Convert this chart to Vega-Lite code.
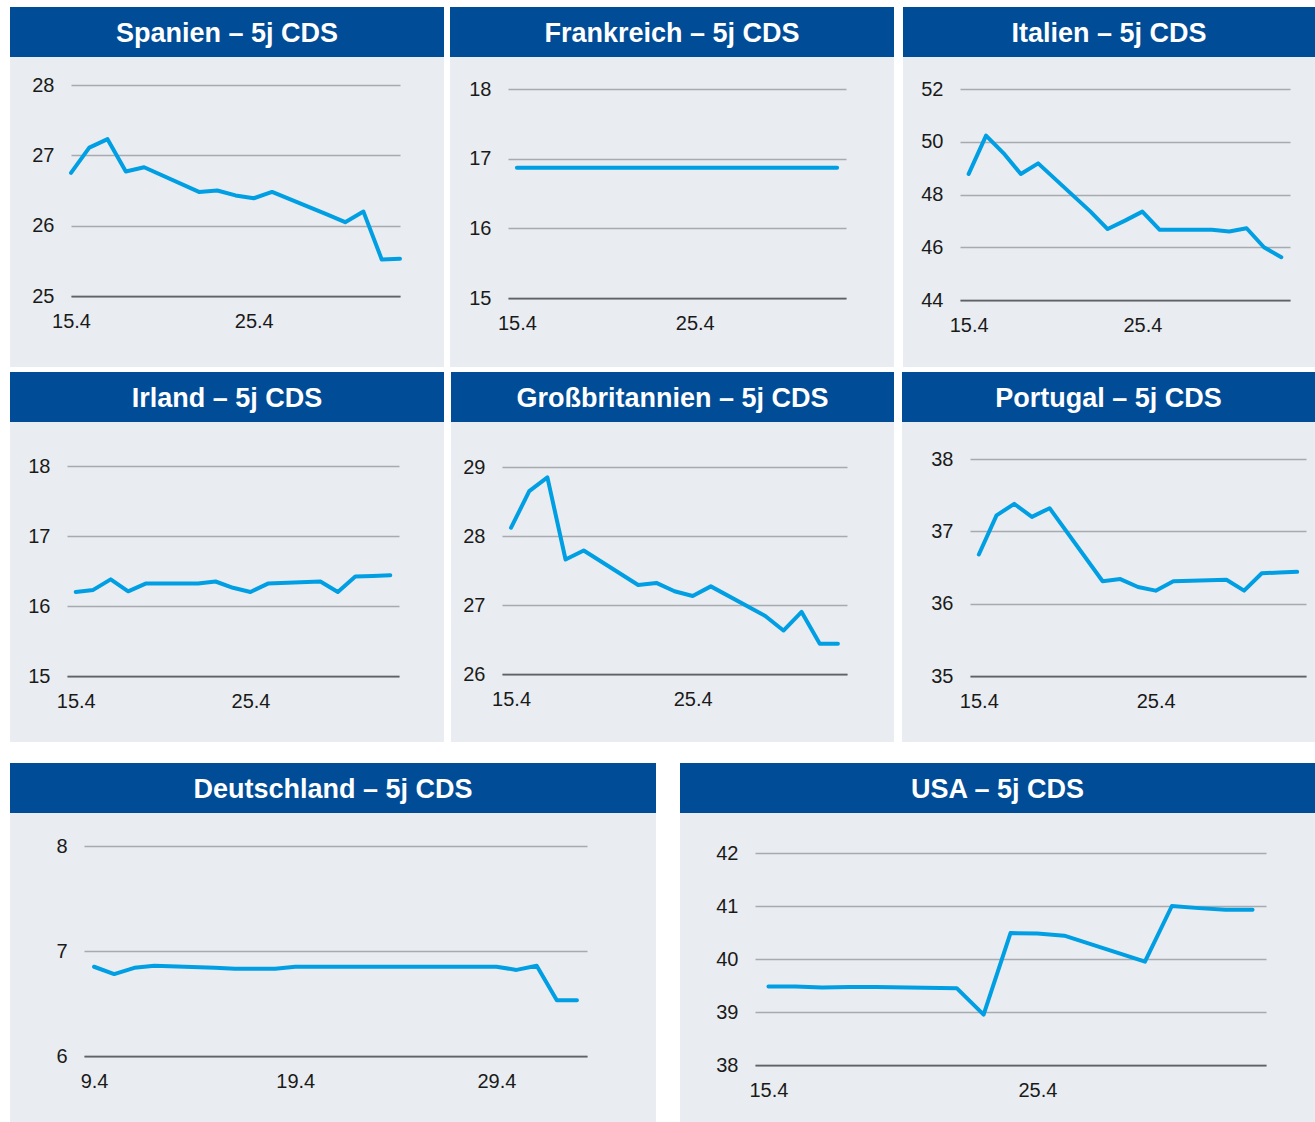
{
  "$schema": "https://vega.github.io/schema/vega-lite/v6.json",
  "background": "white",
  "padding": {"left": 10, "top": 7, "right": 0, "bottom": 0},
  "config": {
    "font": "Liberation Sans",
    "view": {"stroke": null},
    "axis": {"labelFont": "Liberation Sans", "labelFontSize": 20, "labelColor": "#1a1a1a", "title": null, "ticks": false, "tickSize": 0, "gridColor": "#a7aaae", "gridWidth": 1.5, "domainColor": "#5f6368", "domainWidth": 1.75, "labelFlush": false, "labelOverlap": false},
    "line": {"color": "#009fe3", "strokeWidth": 4, "strokeJoin": "round", "strokeCap": "round"},
    "text": {"font": "Liberation Sans", "fontSize": 27, "fontWeight": "bold", "color": "white", "align": "center", "baseline": "middle", "dy": 2}
  },
  "datasets": {
    "spanien": [
      {"date": "2024-04-15T00:00", "cds": 26.75}, {"date": "2024-04-16T00:00", "cds": 27.11}, {"date": "2024-04-17T00:00", "cds": 27.23},
      {"date": "2024-04-18T00:00", "cds": 26.77}, {"date": "2024-04-19T00:00", "cds": 26.83}, {"date": "2024-04-22T00:00", "cds": 26.48},
      {"date": "2024-04-23T00:00", "cds": 26.50}, {"date": "2024-04-24T00:00", "cds": 26.43}, {"date": "2024-04-25T00:00", "cds": 26.39},
      {"date": "2024-04-26T00:00", "cds": 26.48}, {"date": "2024-04-29T00:00", "cds": 26.16}, {"date": "2024-04-30T00:00", "cds": 26.05},
      {"date": "2024-05-01T00:00", "cds": 26.20}, {"date": "2024-05-02T00:00", "cds": 25.52}, {"date": "2024-05-03T00:00", "cds": 25.53}
    ],
    "frankreich": [
      {"date": "2024-04-15T00:00", "cds": 16.87}, {"date": "2024-04-16T00:00", "cds": 16.87}, {"date": "2024-04-17T00:00", "cds": 16.87},
      {"date": "2024-04-18T00:00", "cds": 16.87}, {"date": "2024-04-19T00:00", "cds": 16.87}, {"date": "2024-04-22T00:00", "cds": 16.87},
      {"date": "2024-04-23T00:00", "cds": 16.87}, {"date": "2024-04-24T00:00", "cds": 16.87}, {"date": "2024-04-25T00:00", "cds": 16.87},
      {"date": "2024-04-26T00:00", "cds": 16.87}, {"date": "2024-04-29T00:00", "cds": 16.87}, {"date": "2024-04-30T00:00", "cds": 16.87},
      {"date": "2024-05-01T00:00", "cds": 16.87}, {"date": "2024-05-02T00:00", "cds": 16.87}, {"date": "2024-05-03T00:00", "cds": 16.87}
    ],
    "italien": [
      {"date": "2024-04-15T00:00", "cds": 48.78}, {"date": "2024-04-16T00:00", "cds": 50.23}, {"date": "2024-04-17T00:00", "cds": 49.57},
      {"date": "2024-04-18T00:00", "cds": 48.78}, {"date": "2024-04-19T00:00", "cds": 49.18}, {"date": "2024-04-22T00:00", "cds": 47.36},
      {"date": "2024-04-23T00:00", "cds": 46.69}, {"date": "2024-04-24T00:00", "cds": 47.01}, {"date": "2024-04-25T00:00", "cds": 47.35},
      {"date": "2024-04-26T00:00", "cds": 46.66}, {"date": "2024-04-29T00:00", "cds": 46.66}, {"date": "2024-04-30T00:00", "cds": 46.60},
      {"date": "2024-05-01T00:00", "cds": 46.72}, {"date": "2024-05-02T00:00", "cds": 46.00}, {"date": "2024-05-03T00:00", "cds": 45.62}
    ],
    "irland": [
      {"date": "2024-04-15T00:00", "cds": 16.20}, {"date": "2024-04-16T00:00", "cds": 16.23}, {"date": "2024-04-17T00:00", "cds": 16.38},
      {"date": "2024-04-18T00:00", "cds": 16.21}, {"date": "2024-04-19T00:00", "cds": 16.32}, {"date": "2024-04-22T00:00", "cds": 16.32},
      {"date": "2024-04-23T00:00", "cds": 16.35}, {"date": "2024-04-24T00:00", "cds": 16.26}, {"date": "2024-04-25T00:00", "cds": 16.20},
      {"date": "2024-04-26T00:00", "cds": 16.32}, {"date": "2024-04-29T00:00", "cds": 16.35}, {"date": "2024-04-30T00:00", "cds": 16.20},
      {"date": "2024-05-01T00:00", "cds": 16.42}, {"date": "2024-05-02T00:00", "cds": 16.43}, {"date": "2024-05-03T00:00", "cds": 16.44}
    ],
    "gb": [
      {"date": "2024-04-15T00:00", "cds": 28.12}, {"date": "2024-04-16T00:00", "cds": 28.65}, {"date": "2024-04-17T00:00", "cds": 28.85},
      {"date": "2024-04-18T00:00", "cds": 27.66}, {"date": "2024-04-19T00:00", "cds": 27.79}, {"date": "2024-04-22T00:00", "cds": 27.29},
      {"date": "2024-04-23T00:00", "cds": 27.32}, {"date": "2024-04-24T00:00", "cds": 27.20}, {"date": "2024-04-25T00:00", "cds": 27.13},
      {"date": "2024-04-26T00:00", "cds": 27.27}, {"date": "2024-04-29T00:00", "cds": 26.84}, {"date": "2024-04-30T00:00", "cds": 26.63},
      {"date": "2024-05-01T00:00", "cds": 26.90}, {"date": "2024-05-02T00:00", "cds": 26.44}, {"date": "2024-05-03T00:00", "cds": 26.44}
    ],
    "portugal": [
      {"date": "2024-04-15T00:00", "cds": 36.68}, {"date": "2024-04-16T00:00", "cds": 37.22}, {"date": "2024-04-17T00:00", "cds": 37.38},
      {"date": "2024-04-18T00:00", "cds": 37.20}, {"date": "2024-04-19T00:00", "cds": 37.32}, {"date": "2024-04-22T00:00", "cds": 36.31},
      {"date": "2024-04-23T00:00", "cds": 36.34}, {"date": "2024-04-24T00:00", "cds": 36.23}, {"date": "2024-04-25T00:00", "cds": 36.18},
      {"date": "2024-04-26T00:00", "cds": 36.31}, {"date": "2024-04-29T00:00", "cds": 36.33}, {"date": "2024-04-30T00:00", "cds": 36.18},
      {"date": "2024-05-01T00:00", "cds": 36.42}, {"date": "2024-05-02T00:00", "cds": 36.43}, {"date": "2024-05-03T00:00", "cds": 36.44}
    ],
    "deutschland": [
      {"date": "2024-04-09T00:00", "cds": 6.85}, {"date": "2024-04-10T00:00", "cds": 6.78}, {"date": "2024-04-11T00:00", "cds": 6.84},
      {"date": "2024-04-12T00:00", "cds": 6.86}, {"date": "2024-04-15T00:00", "cds": 6.84}, {"date": "2024-04-16T00:00", "cds": 6.83},
      {"date": "2024-04-17T00:00", "cds": 6.83}, {"date": "2024-04-18T00:00", "cds": 6.83}, {"date": "2024-04-19T00:00", "cds": 6.85},
      {"date": "2024-04-22T00:00", "cds": 6.85}, {"date": "2024-04-23T00:00", "cds": 6.85}, {"date": "2024-04-24T00:00", "cds": 6.85},
      {"date": "2024-04-25T00:00", "cds": 6.85}, {"date": "2024-04-26T00:00", "cds": 6.85}, {"date": "2024-04-29T00:00", "cds": 6.85},
      {"date": "2024-04-30T00:00", "cds": 6.82}, {"date": "2024-05-01T00:00", "cds": 6.86}, {"date": "2024-05-02T00:00", "cds": 6.53},
      {"date": "2024-05-03T00:00", "cds": 6.53}
    ],
    "usa": [
      {"date": "2024-04-15T00:00", "cds": 39.48}, {"date": "2024-04-16T00:00", "cds": 39.48}, {"date": "2024-04-17T00:00", "cds": 39.46},
      {"date": "2024-04-18T00:00", "cds": 39.47}, {"date": "2024-04-19T00:00", "cds": 39.47}, {"date": "2024-04-22T00:00", "cds": 39.45},
      {"date": "2024-04-23T00:00", "cds": 38.95}, {"date": "2024-04-24T00:00", "cds": 40.49}, {"date": "2024-04-25T00:00", "cds": 40.48},
      {"date": "2024-04-26T00:00", "cds": 40.44}, {"date": "2024-04-29T00:00", "cds": 39.95}, {"date": "2024-04-30T00:00", "cds": 41.00},
      {"date": "2024-05-01T00:00", "cds": 40.96}, {"date": "2024-05-02T00:00", "cds": 40.93}, {"date": "2024-05-03T00:00", "cds": 40.93}
    ]
  },
  "spacing": 21,
  "vconcat": [
    {
      "spacing": 5,
      "vconcat": [
        {
          "spacing": 9,
          "hconcat": [
            {
              "spacing": 6,
              "hconcat": [
                {
                  "spacing": 0,
                  "vconcat": [
                    {"width": 434, "height": 50, "view": {"fill": "#004c97", "stroke": null},
                     "data": {"values": [{"titel": "Spanien – 5j CDS"}]},
                     "mark": {"type": "text"},
                     "encoding": {"text": {"field": "titel"},
                       "x": {"datum": 0.5, "type": "quantitative", "scale": {"domain": [0, 1]}, "axis": null},
                       "y": {"datum": 0.5, "type": "quantitative", "scale": {"domain": [0, 1]}, "axis": null}}},
                    {"width": 434, "height": 310, "view": {"fill": "#e9edf1", "stroke": null},
                     "data": {"name": "spanien"},
                     "mark": {"type": "line"},
                     "encoding": {
                       "x": {"field": "date", "type": "temporal",
                             "scale": {"domain": [{"year": 2024, "month": 4, "date": 15}, {"year": 2024, "month": 5, "date": 3}], "range": [61, 390]},
                             "axis": {"values": [{"year": 2024, "month": 4, "date": 15}, {"year": 2024, "month": 4, "date": 25}], "format": "%-d.%-m", "offset": -71, "grid": false, "domain": true, "labelPadding": 15, "zindex": 1}},
                       "y": {"field": "cds", "type": "quantitative",
                             "scale": {"domain": [25, 28], "range": [239, 28], "nice": false, "zero": false},
                             "axis": {"values": [25, 26, 27, 28], "format": "d", "offset": -61, "grid": true, "domain": false, "labelPadding": 17}}
                     }}
                  ]
                },
                {
                  "spacing": 0,
                  "vconcat": [
                    {"width": 444, "height": 50, "view": {"fill": "#004c97", "stroke": null},
                     "data": {"values": [{"titel": "Frankreich – 5j CDS"}]},
                     "mark": {"type": "text"},
                     "encoding": {"text": {"field": "titel"},
                       "x": {"datum": 0.5, "type": "quantitative", "scale": {"domain": [0, 1]}, "axis": null},
                       "y": {"datum": 0.5, "type": "quantitative", "scale": {"domain": [0, 1]}, "axis": null}}},
                    {"width": 444, "height": 310, "view": {"fill": "#e9edf1", "stroke": null},
                     "data": {"name": "frankreich"},
                     "mark": {"type": "line"},
                     "encoding": {
                       "x": {"field": "date", "type": "temporal",
                             "scale": {"domain": [{"year": 2024, "month": 4, "date": 14, "hours": 12}, {"year": 2024, "month": 5, "date": 3, "hours": 12}], "range": [58, 396]},
                             "axis": {"values": [{"year": 2024, "month": 4, "date": 15}, {"year": 2024, "month": 4, "date": 25}], "format": "%-d.%-m", "offset": -69, "grid": false, "domain": true, "labelPadding": 15, "zindex": 1}},
                       "y": {"field": "cds", "type": "quantitative",
                             "scale": {"domain": [15, 18], "range": [241, 32], "nice": false, "zero": false},
                             "axis": {"values": [15, 16, 17, 18], "format": "d", "offset": -58, "grid": true, "domain": false, "labelPadding": 17}}
                     }}
                  ]
                }
              ]
            },
            {
              "spacing": 0,
              "vconcat": [
                {"width": 412, "height": 50, "view": {"fill": "#004c97", "stroke": null},
                 "data": {"values": [{"titel": "Italien – 5j CDS"}]},
                 "mark": {"type": "text"},
                 "encoding": {"text": {"field": "titel"},
                   "x": {"datum": 0.5, "type": "quantitative", "scale": {"domain": [0, 1]}, "axis": null},
                   "y": {"datum": 0.5, "type": "quantitative", "scale": {"domain": [0, 1]}, "axis": null}}},
                {"width": 412, "height": 310, "view": {"fill": "#e9edf1", "stroke": null},
                 "data": {"name": "italien"},
                 "mark": {"type": "line"},
                 "encoding": {
                   "x": {"field": "date", "type": "temporal",
                         "scale": {"domain": [{"year": 2024, "month": 4, "date": 14, "hours": 12}, {"year": 2024, "month": 5, "date": 3, "hours": 12}], "range": [57, 387]},
                         "axis": {"values": [{"year": 2024, "month": 4, "date": 15}, {"year": 2024, "month": 4, "date": 25}], "format": "%-d.%-m", "offset": -67, "grid": false, "domain": true, "labelPadding": 15, "zindex": 1}},
                   "y": {"field": "cds", "type": "quantitative",
                         "scale": {"domain": [44, 52], "range": [243, 32], "nice": false, "zero": false},
                         "axis": {"values": [44, 46, 48, 50, 52], "format": "d", "offset": -57, "grid": true, "domain": false, "labelPadding": 17}}
                 }}
              ]
            }
          ]
        },
        {
          "spacing": 8,
          "hconcat": [
            {
              "spacing": 7,
              "hconcat": [
                {
                  "spacing": 0,
                  "vconcat": [
                    {"width": 434, "height": 50, "view": {"fill": "#004c97", "stroke": null},
                     "data": {"values": [{"titel": "Irland – 5j CDS"}]},
                     "mark": {"type": "text"},
                     "encoding": {"text": {"field": "titel"},
                       "x": {"datum": 0.5, "type": "quantitative", "scale": {"domain": [0, 1]}, "axis": null},
                       "y": {"datum": 0.5, "type": "quantitative", "scale": {"domain": [0, 1]}, "axis": null}}},
                    {"width": 434, "height": 320, "view": {"fill": "#e9edf1", "stroke": null},
                     "data": {"name": "irland"},
                     "mark": {"type": "line"},
                     "encoding": {
                       "x": {"field": "date", "type": "temporal",
                             "scale": {"domain": [{"year": 2024, "month": 4, "date": 14, "hours": 12}, {"year": 2024, "month": 5, "date": 3, "hours": 12}], "range": [57, 389]},
                             "axis": {"values": [{"year": 2024, "month": 4, "date": 15}, {"year": 2024, "month": 4, "date": 25}], "format": "%-d.%-m", "offset": -66, "grid": false, "domain": true, "labelPadding": 15, "zindex": 1}},
                       "y": {"field": "cds", "type": "quantitative",
                             "scale": {"domain": [15, 18], "range": [254, 44], "nice": false, "zero": false},
                             "axis": {"values": [15, 16, 17, 18], "format": "d", "offset": -57, "grid": true, "domain": false, "labelPadding": 17}}
                     }}
                  ]
                },
                {
                  "spacing": 0,
                  "vconcat": [
                    {"width": 443, "height": 50, "view": {"fill": "#004c97", "stroke": null},
                     "data": {"values": [{"titel": "Großbritannien – 5j CDS"}]},
                     "mark": {"type": "text"},
                     "encoding": {"text": {"field": "titel"},
                       "x": {"datum": 0.5, "type": "quantitative", "scale": {"domain": [0, 1]}, "axis": null},
                       "y": {"datum": 0.5, "type": "quantitative", "scale": {"domain": [0, 1]}, "axis": null}}},
                    {"width": 443, "height": 320, "view": {"fill": "#e9edf1", "stroke": null},
                     "data": {"name": "gb"},
                     "mark": {"type": "line"},
                     "encoding": {
                       "x": {"field": "date", "type": "temporal",
                             "scale": {"domain": [{"year": 2024, "month": 4, "date": 14, "hours": 12}, {"year": 2024, "month": 5, "date": 3, "hours": 12}], "range": [51, 396]},
                             "axis": {"values": [{"year": 2024, "month": 4, "date": 15}, {"year": 2024, "month": 4, "date": 25}], "format": "%-d.%-m", "offset": -68, "grid": false, "domain": true, "labelPadding": 15, "zindex": 1}},
                       "y": {"field": "cds", "type": "quantitative",
                             "scale": {"domain": [26, 29], "range": [252, 45], "nice": false, "zero": false},
                             "axis": {"values": [26, 27, 28, 29], "format": "d", "offset": -51, "grid": true, "domain": false, "labelPadding": 17}}
                     }}
                  ]
                }
              ]
            },
            {
              "spacing": 0,
              "vconcat": [
                {"width": 413, "height": 50, "view": {"fill": "#004c97", "stroke": null},
                 "data": {"values": [{"titel": "Portugal – 5j CDS"}]},
                 "mark": {"type": "text"},
                 "encoding": {"text": {"field": "titel"},
                   "x": {"datum": 0.5, "type": "quantitative", "scale": {"domain": [0, 1]}, "axis": null},
                   "y": {"datum": 0.5, "type": "quantitative", "scale": {"domain": [0, 1]}, "axis": null}}},
                {"width": 413, "height": 320, "view": {"fill": "#e9edf1", "stroke": null},
                 "data": {"name": "portugal"},
                 "mark": {"type": "line"},
                 "encoding": {
                   "x": {"field": "date", "type": "temporal",
                         "scale": {"domain": [{"year": 2024, "month": 4, "date": 14, "hours": 12}, {"year": 2024, "month": 5, "date": 3, "hours": 12}], "range": [68, 404]},
                         "axis": {"values": [{"year": 2024, "month": 4, "date": 15}, {"year": 2024, "month": 4, "date": 25}], "format": "%-d.%-m", "offset": -66, "grid": false, "domain": true, "labelPadding": 15, "zindex": 1}},
                   "y": {"field": "cds", "type": "quantitative",
                         "scale": {"domain": [35, 38], "range": [254, 37], "nice": false, "zero": false},
                         "axis": {"values": [35, 36, 37, 38], "format": "d", "offset": -68, "grid": true, "domain": false, "labelPadding": 17}}
                 }}
              ]
            }
          ]
        }
      ]
    },
    {
      "spacing": 24,
      "hconcat": [
        {
          "spacing": 0,
          "vconcat": [
            {"width": 646, "height": 50, "view": {"fill": "#004c97", "stroke": null},
             "data": {"values": [{"titel": "Deutschland – 5j CDS"}]},
             "mark": {"type": "text"},
             "encoding": {"text": {"field": "titel"},
               "x": {"datum": 0.5, "type": "quantitative", "scale": {"domain": [0, 1]}, "axis": null},
               "y": {"datum": 0.5, "type": "quantitative", "scale": {"domain": [0, 1]}, "axis": null}}},
            {"width": 646, "height": 309, "view": {"fill": "#e9edf1", "stroke": null},
             "data": {"name": "deutschland"},
             "mark": {"type": "line"},
             "encoding": {
               "x": {"field": "date", "type": "temporal",
                     "scale": {"domain": [{"year": 2024, "month": 4, "date": 8, "hours": 12}, {"year": 2024, "month": 5, "date": 3, "hours": 12}], "range": [74, 577]},
                     "axis": {"values": [{"year": 2024, "month": 4, "date": 9}, {"year": 2024, "month": 4, "date": 19}, {"year": 2024, "month": 4, "date": 29}], "format": "%-d.%-m", "offset": -66, "grid": false, "domain": true, "labelPadding": 15, "zindex": 1}},
               "y": {"field": "cds", "type": "quantitative",
                     "scale": {"domain": [6, 8], "range": [243, 33], "nice": false, "zero": false},
                     "axis": {"values": [6, 7, 8], "format": ".0f", "tickCount": 10, "offset": -74, "grid": true, "domain": false, "labelPadding": 17}}
             }}
          ]
        },
        {
          "spacing": 0,
          "vconcat": [
            {"width": 635, "height": 50, "view": {"fill": "#004c97", "stroke": null},
             "data": {"values": [{"titel": "USA – 5j CDS"}]},
             "mark": {"type": "text"},
             "encoding": {"text": {"field": "titel"},
               "x": {"datum": 0.5, "type": "quantitative", "scale": {"domain": [0, 1]}, "axis": null},
               "y": {"datum": 0.5, "type": "quantitative", "scale": {"domain": [0, 1]}, "axis": null}}},
            {"width": 635, "height": 309, "view": {"fill": "#e9edf1", "stroke": null},
             "data": {"name": "usa"},
             "mark": {"type": "line"},
             "encoding": {
               "x": {"field": "date", "type": "temporal",
                     "scale": {"domain": [{"year": 2024, "month": 4, "date": 14, "hours": 12}, {"year": 2024, "month": 5, "date": 3, "hours": 12}], "range": [75, 586]},
                     "axis": {"values": [{"year": 2024, "month": 4, "date": 15}, {"year": 2024, "month": 4, "date": 25}], "format": "%-d.%-m", "offset": -57, "grid": false, "domain": true, "labelPadding": 15, "zindex": 1}},
               "y": {"field": "cds", "type": "quantitative",
                     "scale": {"domain": [38, 42], "range": [252, 40], "nice": false, "zero": false},
                     "axis": {"values": [38, 39, 40, 41, 42], "format": "d", "offset": -75, "grid": true, "domain": false, "labelPadding": 17}}
             }}
          ]
        }
      ]
    }
  ]
}
